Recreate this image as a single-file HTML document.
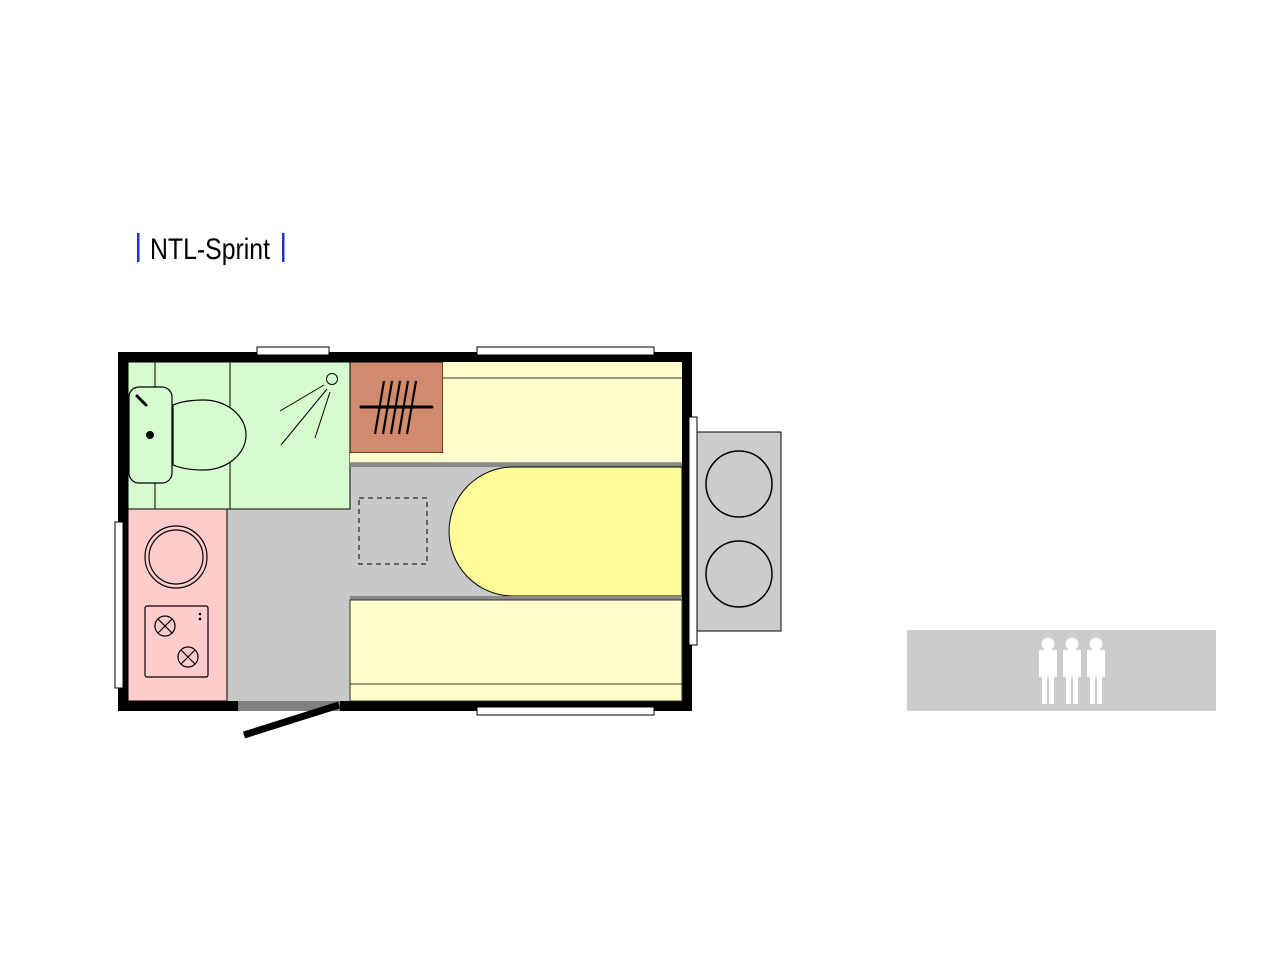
<!DOCTYPE html>
<html><head><meta charset="utf-8"><style>
html,body{margin:0;padding:0;background:#fff;}
</style></head><body>
<svg width="1280" height="960" viewBox="0 0 1280 960" xmlns="http://www.w3.org/2000/svg">
<rect width="1280" height="960" fill="#fff"/>
<!-- title -->
<rect x="137" y="233" width="2.5" height="29" fill="#2233cc"/>
<rect x="282" y="233" width="2.5" height="29" fill="#2233cc"/>
<text x="150" y="259" font-family="Liberation Sans, sans-serif" font-size="30" fill="#000" textLength="120" lengthAdjust="spacingAndGlyphs">NTL-Sprint</text>
<!-- outer wall -->
<rect x="118" y="352" width="574" height="359" fill="#000"/>
<!-- floor gray -->
<rect x="128" y="362" width="554" height="339" fill="#c8c8c8"/>
<!-- bathroom -->
<rect x="128" y="362" width="222" height="147" fill="#d6fbcf" stroke="#000" stroke-width="1"/>
<line x1="155" y1="362" x2="155" y2="509" stroke="#000" stroke-width="1"/>
<line x1="230" y1="362" x2="230" y2="509" stroke="#000" stroke-width="1"/>
<rect x="129" y="387" width="43" height="96" rx="10" fill="#d6fbcf" stroke="#000" stroke-width="1.2"/>
<line x1="137" y1="396" x2="146" y2="405" stroke="#000" stroke-width="3" stroke-linecap="round"/>
<circle cx="150" cy="435" r="4" fill="#000"/>
<path d="M173,405 Q185,400 203,400 A43,35 0 0 1 203,470 Q185,470 173,465 Z" fill="#d6fbcf" stroke="#000" stroke-width="1.2"/>
<circle cx="332" cy="379" r="5.5" fill="#d6fbcf" stroke="#000" stroke-width="1"/>
<line x1="280" y1="411" x2="324" y2="385" stroke="#000" stroke-width="1"/>
<line x1="281" y1="445" x2="327" y2="389" stroke="#000" stroke-width="1"/>
<line x1="315" y1="438" x2="330" y2="392" stroke="#000" stroke-width="1"/>
<!-- brown -->
<rect x="350" y="362" width="93" height="91" fill="#d08a6e" stroke="#000" stroke-width="1"/>
<line x1="361" y1="407" x2="432" y2="407" stroke="#000" stroke-width="3" stroke-linecap="round"/>
<g stroke="#000" stroke-width="2.2">
<line x1="384" y1="381" x2="375" y2="434"/><line x1="392" y1="381" x2="383" y2="434"/>
<line x1="400" y1="381" x2="391" y2="434"/><line x1="408" y1="381" x2="399" y2="434"/>
<line x1="416" y1="381" x2="407" y2="434"/></g>
<!-- top bench -->
<path d="M443,362 H682 V463 H350 V453 H443 Z" fill="#fffccb"/>
<line x1="443" y1="378" x2="682" y2="378" stroke="#333" stroke-width="1"/>
<line x1="350" y1="463" x2="682" y2="463" stroke="#555" stroke-width="1"/>
<rect x="350" y="463" width="332" height="4" fill="#888"/>
<!-- bed -->
<path d="M682,467 H513 A64,64.5 0 0 0 513,596 H682 Z" fill="#fefb98" stroke="#000" stroke-width="1"/>
<rect x="350" y="596" width="332" height="4" fill="#888"/>
<!-- bottom bench -->
<rect x="350" y="600" width="332" height="101" fill="#fffccb" stroke="#333" stroke-width="1"/>
<line x1="350" y1="684" x2="682" y2="684" stroke="#333" stroke-width="1"/>
<!-- dashed -->
<rect x="359" y="498" width="68" height="66" fill="none" stroke="#000" stroke-width="1" stroke-dasharray="5,4"/>
<!-- kitchen -->
<rect x="128" y="509" width="99" height="192" fill="#ffcccb" stroke="#000" stroke-width="1"/>
<circle cx="176" cy="557" r="31" fill="none" stroke="#000" stroke-width="1.2"/>
<circle cx="176" cy="557" r="27" fill="none" stroke="#000" stroke-width="1.2"/>
<rect x="145" y="606" width="63" height="71" rx="2" fill="#ffcccb" stroke="#000" stroke-width="1.2"/>
<g fill="none" stroke="#000" stroke-width="1.2">
<circle cx="165" cy="626" r="10"/><line x1="158" y1="619" x2="172" y2="633"/><line x1="172" y1="619" x2="158" y2="633"/>
<circle cx="188" cy="657" r="10"/><line x1="181" y1="650" x2="195" y2="664"/><line x1="195" y1="650" x2="181" y2="664"/>
</g>
<circle cx="200" cy="614" r="1.3" fill="#000"/><circle cx="200" cy="619" r="1.3" fill="#000"/>
<!-- windows -->
<g fill="#fff" stroke="#000" stroke-width="1">
<rect x="257" y="347" width="72" height="8"/>
<rect x="477" y="347" width="177" height="8"/>
<rect x="477" y="707" width="177" height="8"/>
<rect x="115" y="522" width="8" height="166"/>
<rect x="689" y="417" width="8" height="228"/>
</g>
<!-- door -->
<rect x="238" y="701" width="102" height="10" fill="#808080"/>
<line x1="244" y1="735" x2="339" y2="705" stroke="#000" stroke-width="7"/>
<!-- drawbar -->
<rect x="697" y="432" width="84" height="199" fill="#cccccc" stroke="#000" stroke-width="1"/>
<circle cx="739" cy="484" r="33" fill="none" stroke="#000" stroke-width="1.5"/>
<circle cx="739" cy="574" r="33" fill="none" stroke="#000" stroke-width="1.5"/>
<!-- banner -->
<rect x="907" y="630" width="309" height="81" fill="#cccccc"/>
<g fill="#fff">
<g><circle cx="1048" cy="644" r="6.5"/><rect x="1039" y="650" width="18" height="27"/><rect x="1042" y="677" width="5" height="27"/><rect x="1049" y="677" width="5" height="27"/></g>
<g transform="translate(24,0)"><circle cx="1048" cy="644" r="6.5"/><rect x="1039" y="650" width="18" height="27"/><rect x="1042" y="677" width="5" height="27"/><rect x="1049" y="677" width="5" height="27"/></g>
<g transform="translate(48,0)"><circle cx="1048" cy="644" r="6.5"/><rect x="1039" y="650" width="18" height="27"/><rect x="1042" y="677" width="5" height="27"/><rect x="1049" y="677" width="5" height="27"/></g>
</g>
</svg>
</body></html>
